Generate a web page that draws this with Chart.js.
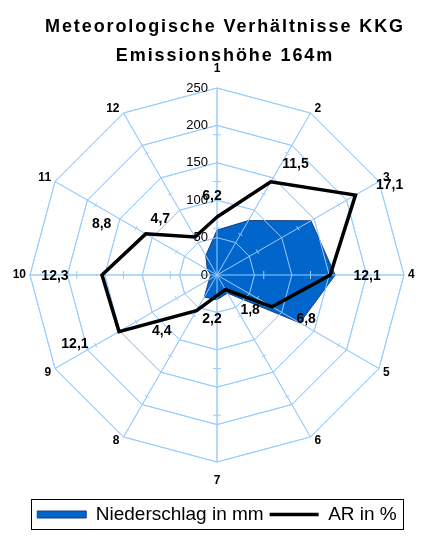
<!DOCTYPE html>
<html>
<head>
<meta charset="utf-8">
<script src="https://cdn.jsdelivr.net/npm/chart.js@4/dist/chart.umd.min.js"></script>
<style>
html,body{margin:0;padding:0;background:#ffffff;}
canvas{display:block;}
</style>
</head>
<body>
<canvas id="c" width="430" height="540"></canvas>
<script>
// ---- data ----
const directions = ['1','2','3','4','5','6','7','8','9','10','11','12'];
const niederschlag = [60, 84, 145, 158, 128, 28, 33, 34, 12, 8, 15, 30];
const arProzent = [6.2, 11.5, 17.1, 12.1, 6.8, 1.8, 2.2, 4.4, 12.1, 12.3, 8.8, 4.7];
const radialTicks = [0, 50, 100, 150, 200, 250];
const arAxisMax = 20;            // secondary (AR) axis maximum
const arAxisTicks = [5, 10, 15]; // secondary axis tick marks
const titleLines = ['Meteorologische Verhältnisse KKG', 'Emissionshöhe 164m'];
const seriesNames = ['Niederschlag in mm', 'AR in %'];

// ---- styles ----
const FONT = '"Liberation Sans", Arial, sans-serif';
const GRID = '#99CCFF';
const BLUE = '#0066CC';
const NAVY = '#1F3D7A';
const rMax = radialTicks[radialTicks.length - 1];
const deNum = v => v.toFixed(1).replace('.', ',');

function drawOverlay(chart) {
  const s = chart.scales.r;
  const ctx = chart.ctx;
  s.draw(chart.chartArea);
  ctx.save();
  ctx.strokeStyle = GRID;
  ctx.lineWidth = 1;
  for (let i = 0; i < directions.length; i++) {
    const a = s.getIndexAngle(i);
    const half = (i % 3 === 0) ? 4 : 2.5;
    const px = Math.cos(a), py = Math.sin(a);
    arAxisTicks.forEach(t => {
      const p = s.getPointPositionForValue(i, t * rMax / arAxisMax);
      ctx.beginPath();
      ctx.moveTo(p.x - px * half, p.y - py * half);
      ctx.lineTo(p.x + px * half, p.y + py * half);
      ctx.stroke();
    });
  }
  ctx.font = '13px ' + FONT;
  ctx.fillStyle = '#000';
  ctx.textAlign = 'right';
  ctx.textBaseline = 'middle';
  radialTicks.forEach(v => {
    const d = s.getDistanceFromCenterForValue(v);
    ctx.fillText(String(v), s.xCenter - 9, s.yCenter - d);
  });
  ctx.restore();
}

const customPlugin = {
  id: 'custom',
  beforeDraw(chart) {
    const ctx = chart.ctx;
    ctx.save();
    ctx.font = 'bold 18px ' + FONT;
    try { ctx.letterSpacing = '1.9px'; } catch (e) {}
    ctx.fillStyle = '#000';
    ctx.textAlign = 'center';
    ctx.textBaseline = 'alphabetic';
    ctx.fillText(titleLines[0], chart.width / 2 + 10, 32);
    ctx.fillText(titleLines[1], chart.width / 2 + 10, 61);
    ctx.restore();
  },
  afterDatasetDraw(chart, args) {
    if (args.index === 0) drawOverlay(chart);
  },
  afterDatasetsDraw(chart) {
    const s = chart.scales.r;
    const ctx = chart.ctx;
    ctx.save();
    // direction labels
    ctx.font = 'bold 12px ' + FONT;
    ctx.fillStyle = '#000';
    ctx.textBaseline = 'middle';
    directions.forEach((lab, i) => {
      const a = s.getIndexAngle(i);
      const sn = Math.sin(a), cs = Math.cos(a);
      const p = s.getPointPositionForValue(i, rMax);
      if (Math.abs(sn) < 0.01) {
        ctx.textAlign = 'center';
        ctx.fillText(lab, p.x, p.y - cs * 19);
      } else {
        ctx.textAlign = sn > 0 ? 'left' : 'right';
        const vy = Math.abs(cs) < 0.01 ? 0 : -Math.sign(cs) * 4;
        ctx.fillText(lab, p.x + (sn > 0 ? 4 : -4), p.y + vy);
      }
    });
    // AR value labels
    ctx.font = 'bold 14px ' + FONT;
    ctx.textAlign = 'center';
    arProzent.forEach((v, i) => {
      const a = s.getIndexAngle(i);
      const sn = Math.sin(a), cs = Math.cos(a);
      const p = s.getPointPositionForValue(i, v * rMax / arAxisMax);
      const sg = Math.abs(sn) < 0.01 ? 0 : Math.sign(sn);
      const dx = 42 * sg * Math.sqrt(Math.abs(sn)) - 5;
      const dy = -22 * cs + 1.5;
      ctx.fillText(deNum(v), p.x + dx, p.y + dy);
    });
    ctx.restore();
  },
  afterDraw(chart) {
    const lg = chart.legend;
    if (!lg || !lg.legendHitBoxes || !lg.legendHitBoxes.length) return;
    const hb = lg.legendHitBoxes;
    let l = Infinity, r = -Infinity, t = Infinity, b = -Infinity;
    hb.forEach(h => { l = Math.min(l, h.left); r = Math.max(r, h.left + h.width); t = Math.min(t, h.top); b = Math.max(b, h.top + h.height); });
    const ctx = chart.ctx;
    ctx.save();
    ctx.strokeStyle = '#000';
    ctx.lineWidth = 1;
    ctx.strokeRect(Math.round(l - 6) + 0.5, Math.round(t - 6) + 0.5, Math.round(r - l + 12), Math.round(b - t + 11));
    ctx.restore();
  }
};

new Chart(document.getElementById('c'), {
  type: 'radar',
  data: {
    labels: directions,
    datasets: [
      {
        label: seriesNames[0],
        data: niederschlag,
        backgroundColor: BLUE,
        borderColor: NAVY,
        borderWidth: 1,
        fill: 'origin',
        pointRadius: 0,
        pointStyle: 'rect',
        order: 1
      },
      {
        label: seriesNames[1],
        data: arProzent.map(v => v * rMax / arAxisMax),
        borderColor: '#000000',
        backgroundColor: '#000000',
        borderWidth: 3.5,
        borderJoinStyle: 'miter',
        fill: false,
        pointRadius: 0,
        pointStyle: 'line',
        order: 0
      }
    ]
  },
  options: {
    responsive: false,
    animation: false,
    events: [],
    layout: { padding: { left: 30, right: 26, top: 52, bottom: 6 } },
    scales: {
      r: {
        min: 0,
        max: rMax,
        ticks: { display: false, stepSize: 50 },
        grid: { color: GRID, lineWidth: 1, circular: false },
        angleLines: { color: GRID, lineWidth: 1 },
        pointLabels: { display: false }
      }
    },
    plugins: {
      title: { display: false },
      tooltip: { enabled: false },
      legend: {
        position: 'bottom',
        labels: {
          usePointStyle: true,
          pointStyleWidth: 49,
          boxHeight: 7,
          padding: 6,
          color: '#000',
          font: { family: FONT, size: 19 },
          sort: (a, b) => a.datasetIndex - b.datasetIndex
        }
      }
    }
  },
  plugins: [customPlugin]
});
</script>
</body>
</html>
